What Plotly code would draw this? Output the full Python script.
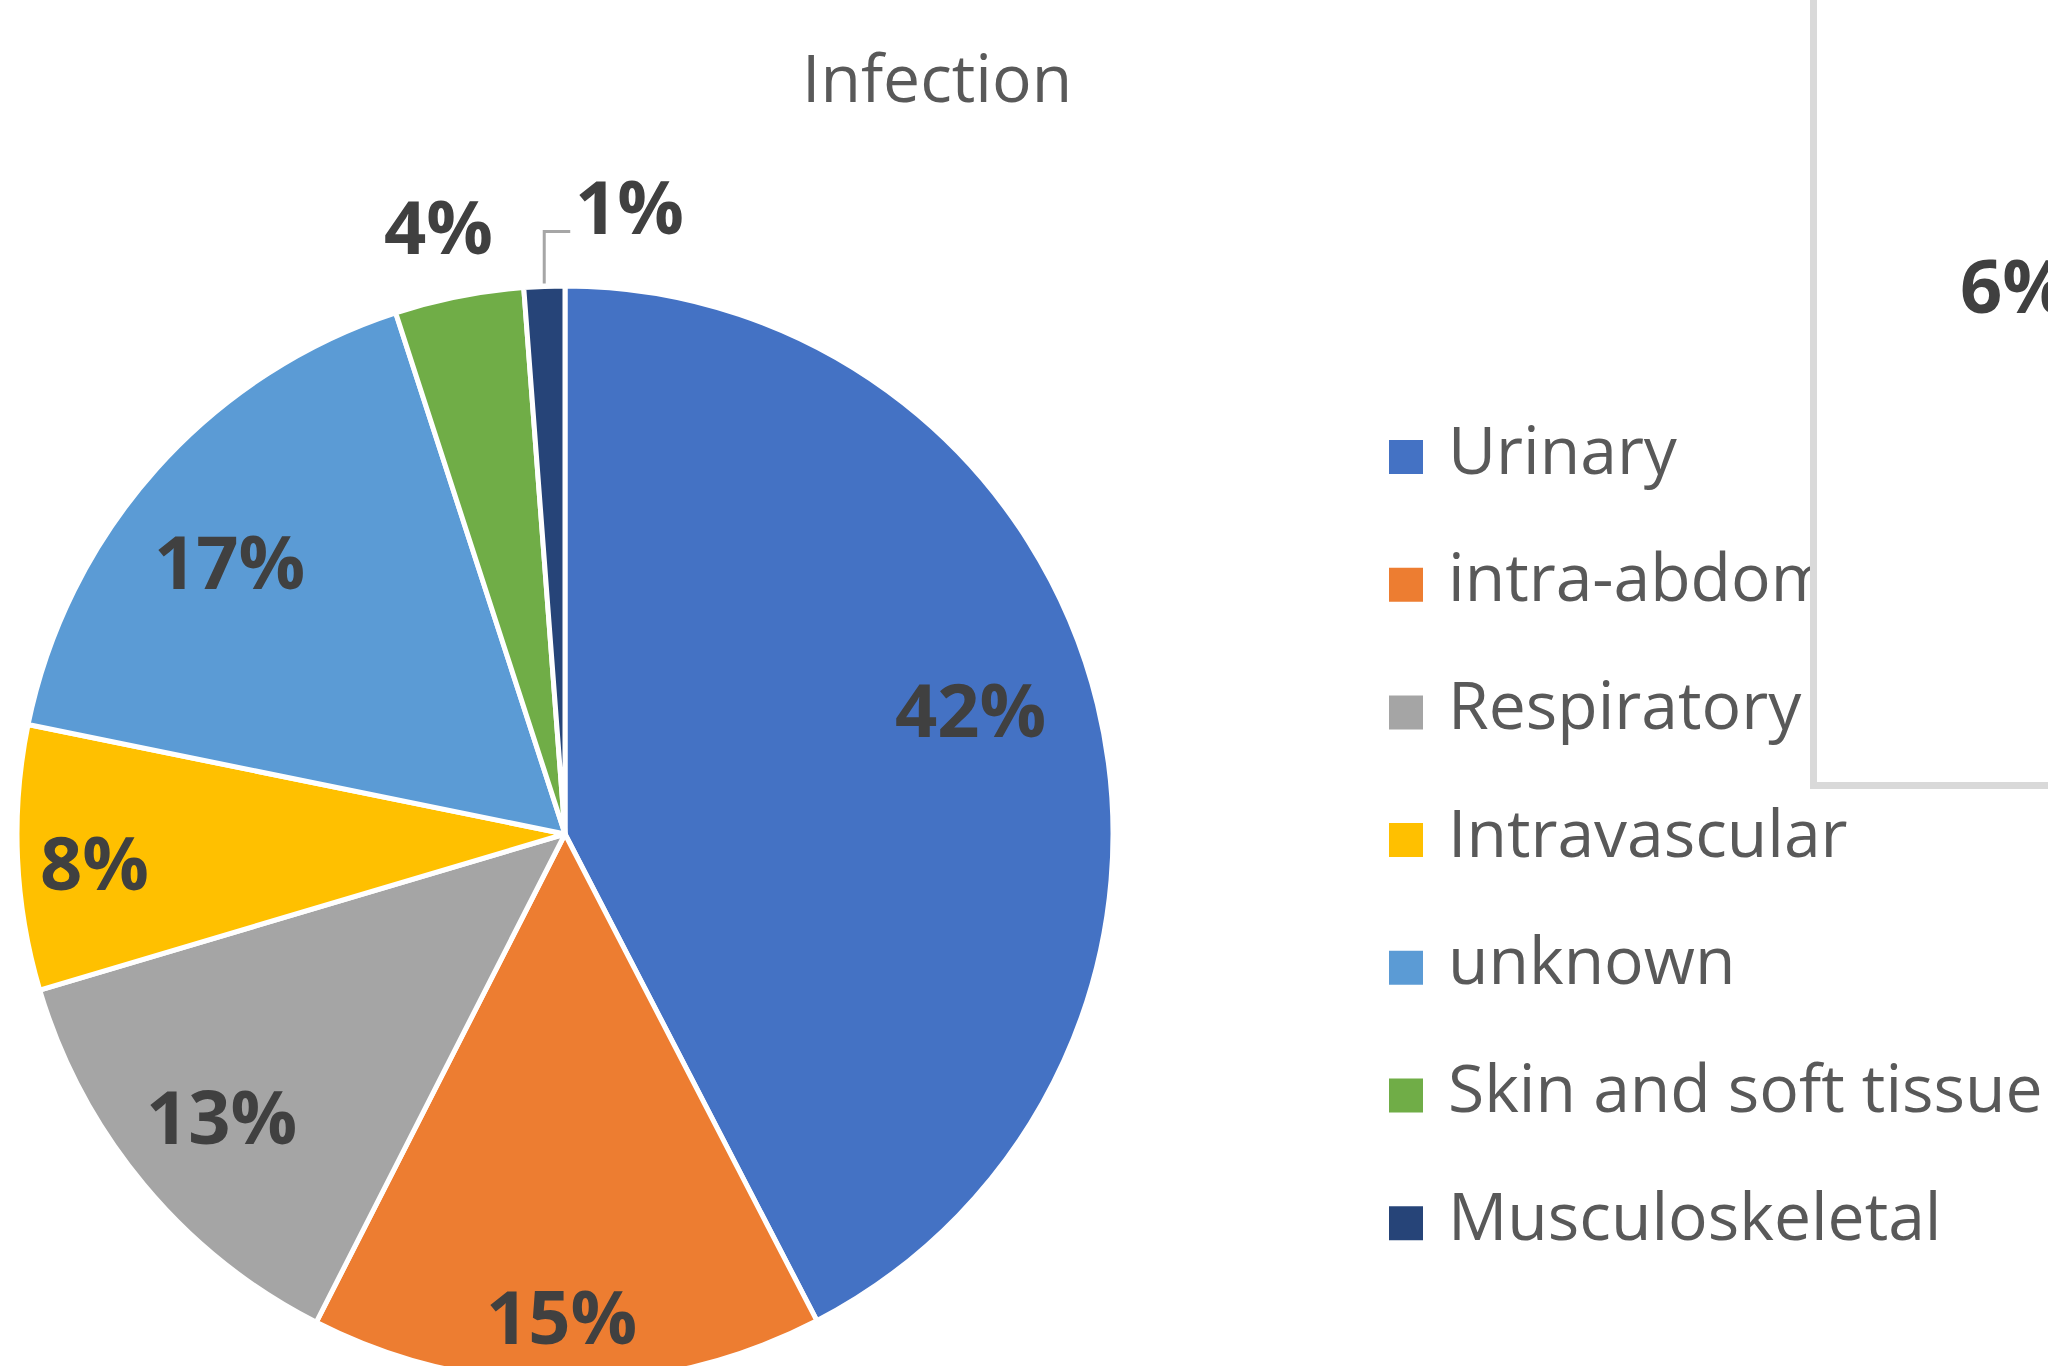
import math
import plotly.graph_objects as go

# ---------------- data ----------------
categories = ["Urinary", "intra-abdominal", "Respiratory", "Intravascular",
              "unknown", "Skin and soft tissue", "Musculoskeletal"]
shares = [42.4, 15.1, 12.9, 7.8, 16.8, 3.8, 1.2]
colors = ["#4472C4", "#ED7D31", "#A5A5A5", "#FFC000", "#5B9BD5", "#70AD47", "#264478"]
chart_title = "Infection"
# fragments of a neighbouring (cropped) chart visible at the right edge
side_labels = ["11%", "6%"]

# ---------------- layout constants ----------------
W, H = 2048, 1400
CX, CY, R = 565, 834, 548          # pie centre / radius in pixels (from top)
# label placement: (radius factor, angle offset in degrees)
label_pos = [(0.774, -3.6), (0.878, 0.6), (0.81, 0.4), (0.86, -0.8),
             (0.79, -2.6), (1.135, -0.6), None]

def px(x):
    return x / W

def py(y):
    return 1 - y / H

fig = go.Figure()

fig.add_trace(go.Pie(
    labels=categories, values=shares, sort=False, direction="clockwise",
    rotation=0, textinfo="none", hoverinfo="label+percent",
    marker=dict(colors=colors, line=dict(color="white", width=5)),
    domain=dict(x=[px(CX - R), px(CX + R)], y=[py(CY + R), py(CY - R)]),
    showlegend=False,
))

# custom legend (large square keys)
fig.add_trace(go.Scatter(
    x=[0] * len(categories), y=list(range(len(categories))),
    mode="markers", marker=dict(symbol="square", size=34, color=colors, line=dict(width=0)),
    hoverinfo="skip", showlegend=False, cliponaxis=False,
))
text_gap = 42
fig.add_trace(go.Scatter(
    x=[text_gap] * len(categories), y=list(range(len(categories))),
    mode="text", text=categories, textposition="middle right",
    textfont=dict(family="Open Sans", size=66, color="#595959"),
    hoverinfo="skip", showlegend=False, cliponaxis=False,
))

row0, row_step, key_x = 457, 127.7, 1406
fig.update_xaxes(visible=False, range=[-key_x, W - key_x], domain=[0, 1], fixedrange=True)
fig.update_yaxes(visible=False, range=[(H - row0) / row_step, -row0 / row_step],
                 domain=[0, 1], fixedrange=True)

annotations = []
shapes = []
total = sum(shares)
cum = 0.0
lab_font = dict(family="Open Sans", size=74, color="#404040", weight=700)
for i, v in enumerate(shares):
    mid = (cum + v / 2) / total * 2 * math.pi
    cum += v
    txt = f"{round(v / total * 100)}%"
    if label_pos[i] is not None:
        rf, dang = label_pos[i]
        a = mid + math.radians(dang)
        r = rf * R
        x = CX + r * math.sin(a)
        y = CY - r * math.cos(a)
        annotations.append(dict(x=px(x), y=py(y), xref="paper", yref="paper",
                                text=txt, showarrow=False, font=lab_font,
                                xanchor="center", yanchor="middle"))
    else:
        ex = CX + (R + 3) * math.sin(mid)
        ey = CY - (R + 3) * math.cos(mid)
        elbow_y = ey - 52
        end_x = ex + 26
        shapes.append(dict(type="path", xref="paper", yref="paper",
                           path=f"M{px(ex)},{py(ey)} L{px(ex)},{py(elbow_y)} L{px(end_x)},{py(elbow_y)}",
                           line=dict(color="#A6A6A6", width=3), layer="above"))
        annotations.append(dict(x=px(end_x + 3), y=py(elbow_y - 26), xref="paper", yref="paper",
                                text=txt, showarrow=False, font=lab_font,
                                xanchor="left", yanchor="middle"))

# title
annotations.append(dict(x=px(937), y=py(76), xref="paper", yref="paper",
                        text=chart_title, showarrow=False,
                        font=dict(family="Open Sans", size=66, color="#595959"),
                        xanchor="center", yanchor="middle"))

# overlapping box of neighbouring chart
shapes.append(dict(type="rect", xref="paper", yref="paper",
                   x0=px(1813.5), x1=px(W + 20), y0=py(785.5), y1=py(-20),
                   line=dict(color="#D9D9D9", width=7), fillcolor="white", layer="above"))
annotations.append(dict(x=px(1906), y=py(-32), xref="paper", yref="paper",
                        text=side_labels[0], showarrow=False, font=lab_font,
                        xanchor="left", yanchor="middle"))
annotations.append(dict(x=px(1958), y=py(284), xref="paper", yref="paper",
                        text=side_labels[1], showarrow=False, font=lab_font,
                        xanchor="left", yanchor="middle"))

fig.update_layout(
    width=W, height=H, margin=dict(l=0, r=0, t=0, b=0, pad=0),
    paper_bgcolor="white", plot_bgcolor="white",
    annotations=annotations, shapes=shapes, showlegend=False,
)

fig.write_html("out.html", config={"displayModeBar": False},
               post_script="document.body.style.margin='0';document.body.style.overflow='hidden';")
